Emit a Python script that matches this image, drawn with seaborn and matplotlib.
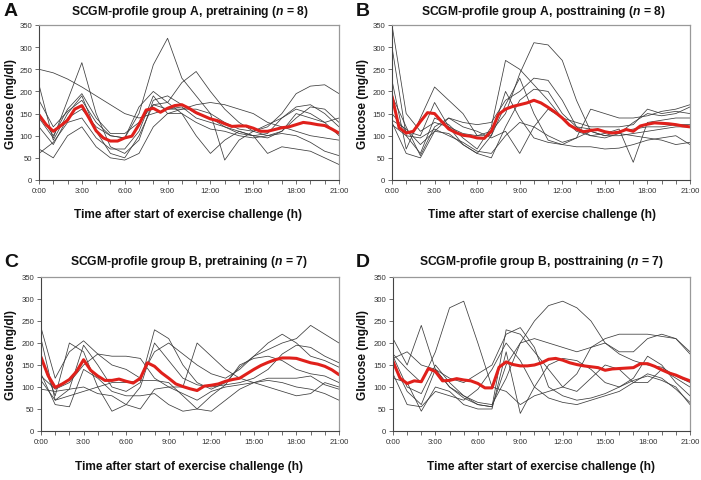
import matplotlib
matplotlib.use("Agg")
import matplotlib.pyplot as plt
import seaborn as sns

# ---------------- data ----------------
hours_trace = list(range(0, 22))                      # hourly samples, 0..21 h
hours_mean = [h / 2 for h in range(0, 43)]            # half-hour samples, 0..21 h

mean_A = [147, 125, 110, 122, 135, 160, 168, 140, 111, 95, 88, 88, 95, 99, 125, 158, 162, 153,
          162, 168, 170, 162, 152, 145, 138, 134, 127, 121, 122, 122, 117, 110, 110, 114, 118,
          120, 125, 130, 128, 125, 123, 115, 106]
mean_B = [189, 118, 106, 110, 132, 152, 150, 132, 115, 107, 101, 99, 95, 94, 110, 148, 160, 166,
          170, 174, 180, 174, 164, 153, 140, 124, 115, 109, 112, 114, 109, 106, 108, 114, 110,
          122, 126, 129, 128, 127, 125, 122, 120]
mean_C = [168, 126, 99, 107, 117, 135, 162, 138, 125, 115, 115, 118, 113, 109, 120, 155, 147, 132,
          120, 107, 101, 96, 92, 102, 104, 107, 113, 117, 120, 130, 140, 149, 156, 162, 166,
          166, 165, 160, 155, 152, 147, 139, 128]
mean_D = [158, 120, 108, 114, 112, 142, 135, 114, 115, 119, 116, 114, 108, 98, 98, 145, 157, 151,
          148, 148, 150, 155, 163, 165, 161, 155, 151, 148, 146, 144, 138, 141, 142, 143, 144,
          153, 153, 147, 139, 132, 127, 120, 114]

A1 = [250, 242, 228, 210, 190, 170, 150, 140, 150, 160, 160, 160, 150, 130, 115, 110, 120, 150, 195, 212, 215, 195]
A2 = [140, 95, 180, 265, 150, 75, 60, 90, 180, 190, 170, 150, 140, 120, 105, 100, 105, 140, 165, 170, 150, 120]
A3 = [120, 80, 140, 160, 120, 100, 95, 150, 260, 320, 230, 190, 150, 45, 90, 110, 125, 140, 160, 150, 130, 140]
A4 = [215, 90, 150, 190, 110, 60, 50, 100, 170, 175, 150, 100, 60, 90, 110, 100, 60, 75, 70, 65, 50, 35]
A5 = [180, 120, 155, 180, 130, 100, 95, 165, 200, 175, 220, 245, 200, 160, 130, 110, 100, 110, 150, 140, 130, 100]
A6 = [70, 50, 100, 120, 75, 50, 45, 60, 120, 150, 150, 130, 115, 110, 100, 95, 100, 105, 100, 85, 65, 55]
A7 = [60, 85, 130, 140, 95, 70, 70, 110, 190, 150, 160, 170, 175, 170, 160, 150, 130, 120, 110, 100, 95, 90]
A8 = [150, 100, 160, 195, 140, 105, 105, 130, 170, 160, 165, 140, 130, 120, 110, 100, 95, 110, 140, 165, 160, 130]

B1 = [350, 150, 110, 130, 120, 105, 100, 110, 150, 240, 310, 305, 270, 180, 110, 100, 110, 115, 120, 120, 125, 125]
B2 = [300, 100, 60, 140, 125, 95, 70, 120, 270, 250, 215, 180, 140, 110, 100, 95, 105, 130, 150, 145, 150, 165]
B3 = [225, 70, 140, 210, 180, 150, 100, 100, 170, 230, 150, 90, 80, 95, 160, 150, 140, 140, 145, 155, 160, 170]
B4 = [190, 120, 55, 120, 140, 130, 125, 130, 180, 200, 230, 225, 180, 120, 100, 105, 115, 40, 130, 135, 140, 140]
B5 = [150, 110, 100, 175, 120, 80, 60, 50, 120, 180, 205, 200, 150, 120, 115, 110, 105, 100, 95, 90, 80, 85]
B6 = [135, 115, 80, 110, 105, 80, 60, 100, 200, 140, 95, 85, 80, 75, 75, 70, 72, 80, 90, 95, 100, 80]
B7 = [130, 60, 50, 110, 140, 120, 110, 95, 110, 60, 120, 160, 140, 130, 120, 120, 120, 125, 160, 150, 155, 150]
B8 = [125, 100, 95, 115, 100, 85, 65, 60, 100, 130, 120, 100, 85, 95, 110, 100, 100, 105, 110, 115, 120, 120]

C1 = [235, 120, 180, 205, 175, 150, 140, 120, 180, 200, 175, 150, 130, 120, 140, 170, 185, 200, 210, 240, 220, 200]
C2 = [210, 70, 95, 195, 150, 100, 90, 110, 230, 210, 150, 110, 95, 110, 145, 170, 200, 220, 200, 170, 160, 145]
C3 = [165, 80, 200, 180, 100, 45, 60, 100, 200, 160, 120, 105, 100, 105, 110, 120, 140, 175, 195, 190, 170, 155]
C4 = [130, 60, 55, 140, 120, 90, 80, 80, 85, 60, 45, 50, 80, 105, 150, 165, 170, 160, 140, 130, 125, 110]
C5 = [125, 95, 110, 150, 175, 170, 170, 165, 120, 100, 100, 200, 170, 140, 120, 110, 100, 90, 80, 85, 110, 100]
C6 = [115, 70, 80, 90, 100, 110, 110, 115, 115, 110, 80, 50, 45, 70, 95, 110, 120, 120, 120, 125, 105, 95]
C7 = [95, 90, 95, 100, 85, 80, 60, 50, 95, 100, 85, 70, 90, 100, 105, 110, 115, 110, 100, 95, 85, 70]

D1 = [175, 140, 110, 180, 280, 295, 200, 100, 90, 60, 80, 90, 100, 130, 190, 200, 180, 180, 210, 220, 210, 180]
D2 = [210, 150, 240, 140, 100, 80, 60, 55, 230, 220, 180, 140, 100, 90, 120, 150, 140, 110, 110, 140, 120, 100]
D3 = [170, 100, 85, 150, 110, 80, 65, 60, 120, 200, 250, 285, 295, 280, 250, 200, 175, 160, 150, 145, 125, 110]
D4 = [165, 180, 150, 140, 100, 75, 60, 55, 150, 200, 210, 200, 190, 180, 190, 210, 220, 220, 220, 215, 210, 175]
D5 = [155, 90, 60, 140, 120, 110, 130, 150, 220, 235, 190, 100, 80, 70, 75, 85, 100, 120, 170, 150, 110, 80]
D6 = [130, 60, 55, 90, 80, 70, 95, 140, 200, 160, 100, 75, 65, 60, 70, 80, 90, 110, 130, 120, 95, 65]
D7 = [120, 110, 45, 100, 90, 60, 50, 50, 180, 40, 100, 150, 165, 160, 140, 110, 100, 115, 125, 115, 100, 60]

panel_letters = ["A", "B", "C", "D"]
panel_titles = [
    r"SCGM-profile group A, pretraining ($\mathbfit{n}$ = 8)",
    r"SCGM-profile group A, posttraining ($\mathbfit{n}$ = 8)",
    r"SCGM-profile group B, pretraining ($\mathbfit{n}$ = 7)",
    r"SCGM-profile group B, posttraining ($\mathbfit{n}$ = 7)",
]
x_ticks = [0, 3, 6, 9, 12, 15, 18, 21]
x_tick_labels = ["0:00", "3:00", "6:00", "9:00", "12:00", "15:00", "18:00", "21:00"]
y_ticks = [0, 50, 100, 150, 200, 250, 300, 350]
x_label = "Time after start of exercise challenge (h)"
y_label = "Glucose (mg/dl)"

panels = [
    (mean_A, [A1, A2, A3, A4, A5, A6, A7, A8]),
    (mean_B, [B1, B2, B3, B4, B5, B6, B7, B8]),
    (mean_C, [C1, C2, C3, C4, C5, C6, C7]),
    (mean_D, [D1, D2, D3, D4, D5, D6, D7]),
]

# ---------------- style ----------------
sns.set_theme(style="white")
plt.rcParams["font.family"] = ["Liberation Sans", "DejaVu Sans"]
plt.rcParams["mathtext.fontset"] = "custom"
plt.rcParams["mathtext.bfit"] = "Liberation Sans:bold:italic"
plt.rcParams["mathtext.rm"] = "Liberation Sans"

W, H = 701, 481
fig = plt.figure(figsize=(W / 100, H / 100), dpi=100)
fig.patch.set_facecolor("white")

# axes boxes in pixel coords: (left, top, right, bottom)
boxes = [(39, 26, 339, 181), (392, 26, 690, 181), (41, 278, 339, 432), (393, 278, 690, 432)]
title_pos = [(190, 12), (543, 12), (189, 262), (541, 262)]
letter_pos = [(4, 12), (356, 12), (4, 263), (356, 263)]
xlabel_pos = [(188, 215), (542, 215), (189, 467), (541, 467)]
ylabel_pos = [(11, 104), (363, 104), (11, 355), (363, 355)]


def fx(px):
    return px / W


def fy(py):
    return 1 - py / H


tick_font = ["Liberation Sans Narrow", "Liberation Sans", "DejaVu Sans"]

for i, (mean_vals, traces) in enumerate(panels):
    l, t, r, b = boxes[i]
    ax = fig.add_axes([fx(l), fy(b), (r - l) / W, (b - t) / H])
    for tr in traces:
        sns.lineplot(x=hours_trace, y=tr, ax=ax, color="#3c3c3c", linewidth=0.55,
                     errorbar=None, sort=False, legend=False)
    sns.lineplot(x=hours_mean, y=mean_vals, ax=ax, color="#e0201b", linewidth=2.2,
                 errorbar=None, sort=False, legend=False)
    ax.set_xlim(0, 21)
    ax.set_ylim(0, 350)
    ax.set_xticks(x_ticks)
    ax.set_xticklabels(x_tick_labels, fontsize=5.6, color="#333333", family=tick_font)
    ax.set_xticks(range(0, 22), minor=True)
    ax.set_yticks(y_ticks)
    ax.set_yticklabels([str(v) for v in y_ticks], fontsize=5.6, color="#333333", family=tick_font)
    ax.tick_params(axis="both", which="both", direction="out", length=3, width=0.6,
                   color="#555555", pad=2, bottom=True, left=True)
    ax.set_xlabel("")
    ax.set_ylabel("")
    for s in ["left", "bottom"]:
        ax.spines[s].set_color("#444444")
        ax.spines[s].set_linewidth(0.8)
    for s in ["top", "right"]:
        ax.spines[s].set_color("#999999")
        ax.spines[s].set_linewidth(0.9)
    ax.set_facecolor("white")

    tx, ty = title_pos[i]
    fig.text(fx(tx), fy(ty), panel_titles[i], ha="center", va="center",
             fontsize=8.7, fontweight="bold", color="#111111")
    lx, ly = letter_pos[i]
    fig.text(fx(lx), fy(ly), panel_letters[i], ha="left", va="center",
             fontsize=14, fontweight="bold", color="#111111")
    xx, xy = xlabel_pos[i]
    fig.text(fx(xx), fy(xy), x_label, ha="center", va="center",
             fontsize=8.6, fontweight="bold", color="#111111")
    yx, yy = ylabel_pos[i]
    fig.text(fx(yx), fy(yy), y_label, ha="center", va="center", rotation=90,
             fontsize=8.6, fontweight="bold", color="#111111")

fig.savefig("out.png", dpi=100, facecolor="white")
